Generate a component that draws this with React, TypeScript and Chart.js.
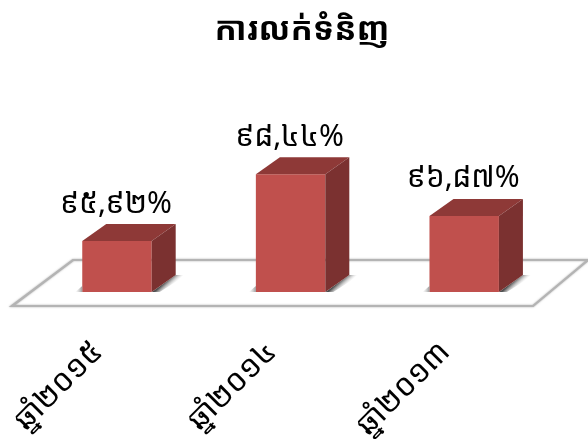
import React, { useEffect, useRef } from "react";
import { Chart, registerables } from "chart.js";

Chart.register(...registerables);

const categories = ["ឆ្នាំ២០១៥", "ឆ្នាំ២០១៤", "ឆ្នាំ២០១៣"];
const values = [95.92, 98.44, 96.87];
const valueLabels = ["៩៥,៩២%", "៩៨,៤៤%", "៩៦,៨៧%"];
const titleText = "ការលក់ទំនិញ";
const fontFamily = "'Noto Sans Khmer', 'Khmer OS', 'Noto Sans', 'DejaVu Sans', sans-serif";

const DX = 24;
const DY = 17;

const poly = (ctx: CanvasRenderingContext2D, pts: number[][], fill: any) => {
  ctx.beginPath();
  pts.forEach((p, i) => (i ? ctx.lineTo(p[0], p[1]) : ctx.moveTo(p[0], p[1])));
  ctx.closePath();
  ctx.fillStyle = fill;
  ctx.fill();
};

const floorPlugin = {
  id: "floor3d",
  beforeDatasetsDraw(chart: any) {
    const { ctx, chartArea: a } = chart;
    const yB = a.bottom;
    ctx.save();
    ctx.fillStyle = "#000";
    ctx.font = `bold 33px ${fontFamily}`;
    ctx.textAlign = "center";
    ctx.textBaseline = "middle";
    ctx.fillText(titleText, 302, 31);
    ctx.strokeStyle = "#B4B4B4";
    ctx.lineWidth = 2.2;
    ctx.shadowColor = "rgba(150,150,150,0.8)";
    ctx.shadowBlur = 2;
    ctx.beginPath();
    ctx.moveTo(12, yB + 14);
    ctx.lineTo(533, yB + 14);
    ctx.lineTo(588, yB - 32);
    ctx.lineTo(73, yB - 32);
    ctx.closePath();
    ctx.stroke();
    ctx.restore();
  },
};

const bar3dPlugin = {
  id: "bar3d",
  afterDatasetsDraw(chart: any) {
    const { ctx, chartArea } = chart;
    const els = chart.getDatasetMeta(0).data;
    ctx.save();
    els.forEach((el: any, i: number) => {
      const p = el.getProps(["x", "y", "width"], true);
      const base = chartArea.bottom;
      const l = p.x - p.width / 2;
      const r = p.x + p.width / 2;
      // floor shadow
      const g = ctx.createLinearGradient(r + 12, base - 8.5, r + 17, base - 3);
      g.addColorStop(0, "rgba(70,70,70,0.95)");
      g.addColorStop(1, "rgba(200,200,200,0)");
      poly(ctx, [[r, base], [r + DX, base - DY], [r + DX + 11, base - DY], [r + 8, base]], g);
      const g2 = ctx.createLinearGradient(l - 7, 0, l, 0);
      g2.addColorStop(0, "rgba(190,190,190,0)");
      g2.addColorStop(1, "rgba(130,130,130,0.8)");
      poly(ctx, [[l - 7, base], [l, base - 6], [l, base]], g2);
      // top
      poly(ctx, [[l, p.y], [l + DX, p.y - DY], [r + DX, p.y - DY], [r, p.y]], "#8E3937");
      // side
      poly(ctx, [[r, p.y], [r + DX, p.y - DY], [r + DX, base - DY], [r, base]], "#7B3130");
      // label
      ctx.fillStyle = "#000";
      ctx.font = `30px ${fontFamily}`;
      ctx.textAlign = "center";
      ctx.textBaseline = "middle";
      ctx.fillText(valueLabels[i], p.x - 1, p.y - 37);
    });
    ctx.restore();
  },
};

export default function App() {
  const ref = useRef<HTMLCanvasElement>(null);
  useEffect(() => {
    const chart = new Chart(ref.current!, {
      type: "bar",
      data: {
        labels: categories,
        datasets: [
          {
            data: values,
            backgroundColor: "#C0504D",
            barPercentage: 0.4,
            categoryPercentage: 1,
          },
        ],
      },
      options: {
        responsive: false,
        animation: false,
        layout: { padding: { left: 27, right: 37, top: 133, bottom: 0 } },
        plugins: {
          legend: { display: false },
          tooltip: { enabled: false },
          title: { display: false },
        },
        scales: {
          x: {
            grid: { display: false },
            border: { display: false },
            afterFit: (s: any) => {
              s.height = 147;
            },
            ticks: {
              color: "#000",
              font: { family: fontFamily, size: 31 },
              minRotation: 45,
              maxRotation: 45,
              padding: 34,
              labelOffset: -19,
            },
          },
          y: { display: false, min: 94, max: 100 },
        },
      },
      plugins: [floorPlugin, bar3dPlugin],
    });
    return () => chart.destroy();
  }, []);
  return (
    <div style={{ position: "fixed", left: 0, top: 0, width: 588, height: 439, background: "#fff" }}>
      <canvas ref={ref} width={588} height={439} style={{ display: "block" }} />
    </div>
  );
}
